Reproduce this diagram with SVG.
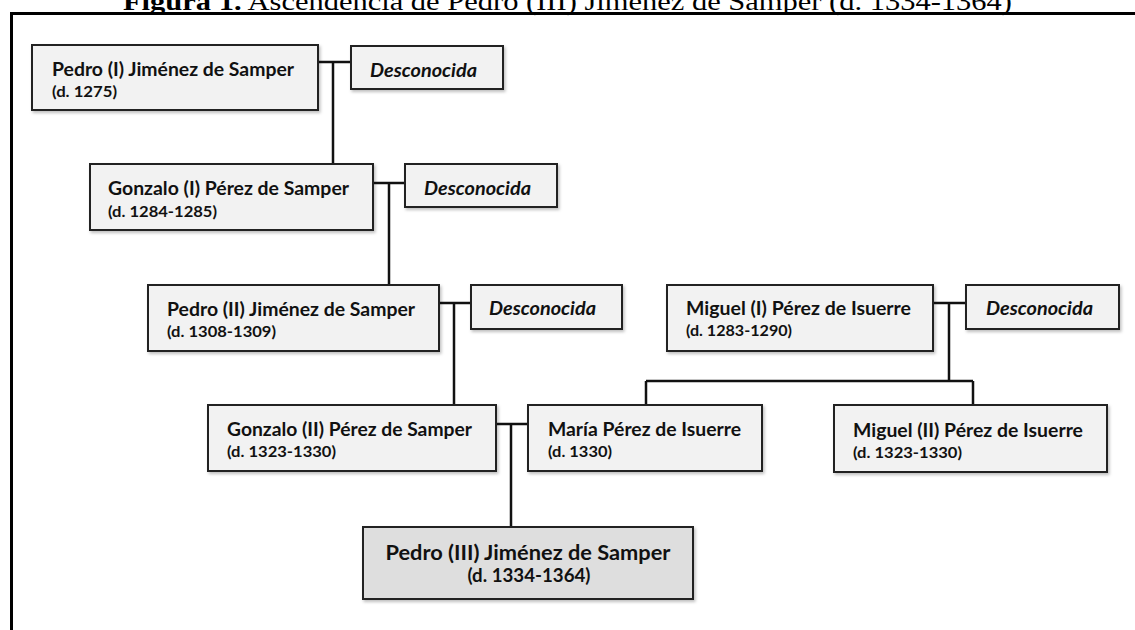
<svg xmlns="http://www.w3.org/2000/svg" width="1135" height="630" viewBox="0 0 1135 630">
  <style>
    .box { fill: #f2f2f2; stroke: #222222; stroke-width: 2; }
    .main { fill: #dedede; stroke: #222222; stroke-width: 2; }
    .name { font-family: Lato, "Open Sans", sans-serif; font-weight: 700; font-size: 18.5px; fill: #111111; }
    .date { font-family: Lato, "Open Sans", sans-serif; font-weight: 700; font-size: 16px; fill: #111111; }
    .unk { font-family: Lato, "Open Sans", sans-serif; font-weight: 700; font-style: italic; font-size: 18.5px; fill: #111111; }
    .bigname { font-family: Lato, "Open Sans", sans-serif; font-weight: 700; font-size: 20.5px; fill: #111111; }
    .bigdate { font-family: Lato, "Open Sans", sans-serif; font-weight: 700; font-size: 18px; fill: #111111; }
    .link { fill: none; stroke: #111111; stroke-width: 2.5; }
    .caption { font-family: "Liberation Serif", "DejaVu Serif", serif; font-size: 26px; fill: #000000; }
  </style>
  <defs>
    <filter id="shadow" x="-5%" y="-10%" width="115%" height="130%">
      <feDropShadow dx="1.5" dy="2" stdDeviation="1.5" flood-color="#000000" flood-opacity="0.25"/>
    </filter>
  </defs>
  <rect x="0" y="0" width="1135" height="630" fill="#ffffff"/>

  <text class="caption" x="123" y="10" textLength="889" lengthAdjust="spacingAndGlyphs"><tspan font-weight="700">Figura 1.</tspan> Ascendencia de Pedro (III) Jiménez de Samper (d. 1334-1364)</text>
  <rect x="11.5" y="13.5" width="1135" height="630" fill="none" stroke="#000000" stroke-width="3"/>

  <g id="connectors">
    <path class="link" d="M318,62 H351 M333,62 V164"/>
    <path class="link" d="M373,183 H405 M389,183 V285"/>
    <path class="link" d="M439,303 H471 M454,303 V405"/>
    <path class="link" d="M933,303 H966 M949,303 V381 M646,381 H973 M646,381 V405 M973,381 V405"/>
    <path class="link" d="M496,424 H528 M511,424 V527"/>
  </g>

  <g id="pedro1">
    <rect class="box" x="32" y="45" width="286" height="65" filter="url(#shadow)"/>
    <text class="name" x="52" y="76" textLength="242" lengthAdjust="spacingAndGlyphs">Pedro (I) Jiménez de Samper</text>
    <text class="date" x="52" y="97" textLength="65" lengthAdjust="spacingAndGlyphs">(d. 1275)</text>
  </g>
  <g id="desconocida1">
    <rect class="box" x="351" y="46" width="152" height="43" filter="url(#shadow)"/>
    <text class="unk" x="370" y="77" textLength="107" lengthAdjust="spacingAndGlyphs">Desconocida</text>
  </g>

  <g id="gonzalo1">
    <rect class="box" x="90" y="164" width="283" height="66" filter="url(#shadow)"/>
    <text class="name" x="108" y="195" textLength="241" lengthAdjust="spacingAndGlyphs">Gonzalo (I) Pérez de Samper</text>
    <text class="date" x="108" y="216.5" textLength="109" lengthAdjust="spacingAndGlyphs">(d. 1284-1285)</text>
  </g>
  <g id="desconocida2">
    <rect class="box" x="405" y="164" width="152" height="43" filter="url(#shadow)"/>
    <text class="unk" x="424" y="195" textLength="107" lengthAdjust="spacingAndGlyphs">Desconocida</text>
  </g>

  <g id="pedro2">
    <rect class="box" x="148" y="285" width="291" height="66" filter="url(#shadow)"/>
    <text class="name" x="167" y="316" textLength="248" lengthAdjust="spacingAndGlyphs">Pedro (II) Jiménez de Samper</text>
    <text class="date" x="167" y="337" textLength="109" lengthAdjust="spacingAndGlyphs">(d. 1308-1309)</text>
  </g>
  <g id="desconocida3">
    <rect class="box" x="471" y="285" width="151" height="44" filter="url(#shadow)"/>
    <text class="unk" x="489" y="314.5" textLength="107" lengthAdjust="spacingAndGlyphs">Desconocida</text>
  </g>

  <g id="miguel1">
    <rect class="box" x="667" y="285" width="266" height="66" filter="url(#shadow)"/>
    <text class="name" x="686" y="314.5" textLength="225" lengthAdjust="spacingAndGlyphs">Miguel (I) Pérez de Isuerre</text>
    <text class="date" x="686" y="336" textLength="106" lengthAdjust="spacingAndGlyphs">(d. 1283-1290)</text>
  </g>
  <g id="desconocida4">
    <rect class="box" x="966" y="285" width="153" height="44" filter="url(#shadow)"/>
    <text class="unk" x="986" y="314.5" textLength="107" lengthAdjust="spacingAndGlyphs">Desconocida</text>
  </g>

  <g id="gonzalo2">
    <rect class="box" x="208" y="405" width="288" height="66" filter="url(#shadow)"/>
    <text class="name" x="227" y="436" textLength="245" lengthAdjust="spacingAndGlyphs">Gonzalo (II) Pérez de Samper</text>
    <text class="date" x="227" y="457" textLength="109" lengthAdjust="spacingAndGlyphs">(d. 1323-1330)</text>
  </g>
  <g id="maria">
    <rect class="box" x="528" y="405" width="234" height="66" filter="url(#shadow)"/>
    <text class="name" x="548" y="436" textLength="193" lengthAdjust="spacingAndGlyphs">María Pérez de Isuerre</text>
    <text class="date" x="548" y="457" textLength="64" lengthAdjust="spacingAndGlyphs">(d. 1330)</text>
  </g>
  <g id="miguel2">
    <rect class="box" x="834" y="405" width="273" height="67" filter="url(#shadow)"/>
    <text class="name" x="853" y="436.5" textLength="230" lengthAdjust="spacingAndGlyphs">Miguel (II) Pérez de Isuerre</text>
    <text class="date" x="853" y="457.5" textLength="109" lengthAdjust="spacingAndGlyphs">(d. 1323-1330)</text>
  </g>

  <g id="pedro3">
    <rect class="main" x="363" y="527" width="330" height="72" filter="url(#shadow)"/>
    <text class="bigname" x="528" y="560" text-anchor="middle" textLength="285" lengthAdjust="spacingAndGlyphs">Pedro (III) Jiménez de Samper</text>
    <text class="bigdate" x="529" y="582" text-anchor="middle" textLength="123" lengthAdjust="spacingAndGlyphs">(d. 1334-1364)</text>
  </g>
</svg>
